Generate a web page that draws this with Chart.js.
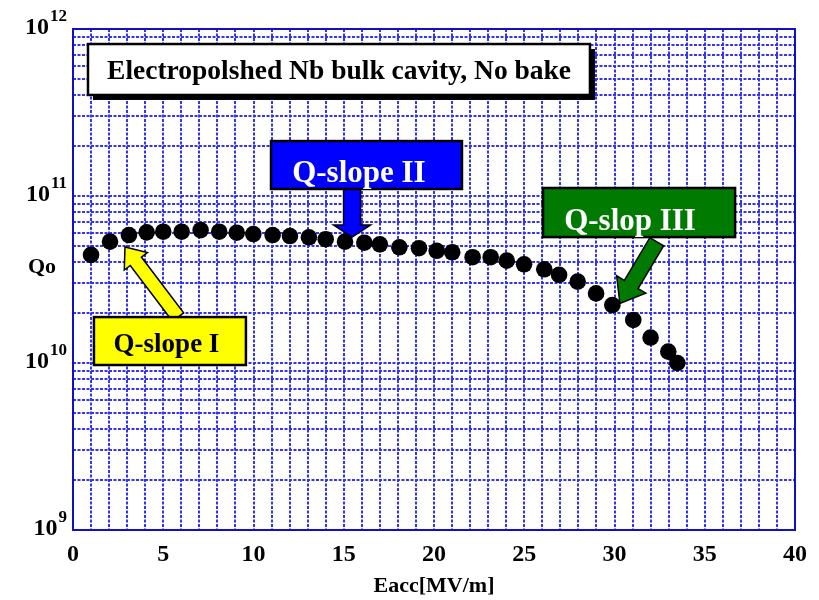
<!DOCTYPE html>
<html lang="en">
<head>
<meta charset="UTF-8">
<title>Electropolished Nb cavity - Q vs Eacc</title>
<script src="https://cdn.jsdelivr.net/npm/chart.js@4"></script>
<style>
    html, body { margin: 0; padding: 0; background: #ffffff; }
    #chart_container { width: 819px; height: 600px; }
</style>
</head>
<body>
<div id="chart_container"><canvas id="q_chart" width="819" height="600"></canvas></div>
<script>
// Accelerating gradient [MV/m] of each measurement
const eacc = [1.0, 2.05, 3.1, 4.08, 5.0, 6.02, 7.07, 8.1, 9.07, 9.99,
              11.06, 12.02, 13.07, 14.0, 15.07, 16.14, 17.0, 18.08, 19.17, 20.15,
              21.01, 22.14, 23.14, 24.03, 24.99, 26.11, 26.93, 27.96, 28.98, 29.88,
              31.04, 32.0, 32.98, 33.48];

// Quality factor Qo of each measurement
const q0 = [4.44e10, 5.33e10, 5.84e10, 6.06e10, 6.11e10, 6.11e10, 6.25e10, 6.11e10, 6.03e10, 5.92e10,
            5.84e10, 5.76e10, 5.66e10, 5.51e10, 5.33e10, 5.25e10, 5.14e10, 4.93e10, 4.87e10, 4.70e10,
            4.60e10, 4.30e10, 4.30e10, 4.10e10, 3.90e10, 3.64e10, 3.37e10, 3.07e10, 2.61e10, 2.22e10,
            1.81e10, 1.42e10, 1.17e10, 1.00e10];

// Axis ticks: decades on the log axis, labelled every 5 MV/m on x
const yDecades = [9, 10, 11, 12];
const xLabelStep = 5;

const SERIF = "'Liberation Serif', 'Times New Roman', serif";
const GRID_COLOR = '#3434f2';

// Annotation boxes, x in MV/m and y as log10(Q)
const boxes = [
    { text: 'Electropolshed Nb bulk cavity, No bake', x0: 0.83, x1: 28.64, e0: 11.605, e1: 11.91,
      fill: '#ffffff', color: '#000000', size: 27.5, textX: 14.74, textE: 11.70, shadow: 5 },
    { text: 'Q-slope II', x0: 10.97, x1: 21.55, e0: 11.042, e1: 11.329,
      fill: '#0000ff', color: '#ffffff', size: 31, textX: 15.84, textE: 11.084, shadow: 0 },
    { text: 'Q-slop III', x0: 26.04, x1: 36.68, e0: 10.754, e1: 11.048,
      fill: '#007a00', color: '#ffffff', size: 31, textX: 30.86, textE: 10.796, shadow: 0 },
    { text: 'Q-slope I', x0: 1.16, x1: 9.58, e0: 9.988, e1: 10.275,
      fill: '#ffff00', color: '#000000', size: 27, textX: 5.18, textE: 10.066, shadow: 0 }
];

const arrows = [
    { x0: 15.46, e0: 11.042, x1: 15.46, e1: 10.754, shaft: 17, head: 37, headLen: 12, fill: '#0000ff' },
    { x0: 32.34, e0: 10.726, x1: 30.30, e1: 10.357, shaft: 16, head: 34, headLen: 22, fill: '#007a00' },
    { x0: 5.82, e0: 10.275, x1: 2.88, e1: 10.695, shaft: 14, head: 29, headLen: 18, fill: '#ffff00' }
];

function drawBlockArrow(ctx, x0, y0, x1, y1, a) {
    const len = Math.hypot(x1 - x0, y1 - y0);
    const ang = Math.atan2(y1 - y0, x1 - x0);
    ctx.save();
    ctx.translate(x0, y0);
    ctx.rotate(ang);
    const s = a.shaft / 2, h = a.head / 2, b = len - a.headLen;
    ctx.beginPath();
    ctx.moveTo(0, -s);
    ctx.lineTo(b, -s);
    ctx.lineTo(b, -h);
    ctx.lineTo(len, 0);
    ctx.lineTo(b, h);
    ctx.lineTo(b, s);
    ctx.lineTo(0, s);
    ctx.closePath();
    ctx.fillStyle = a.fill;
    ctx.fill();
    ctx.lineWidth = 1.5;
    ctx.strokeStyle = '#000000';
    ctx.stroke();
    ctx.restore();
}

const decorPlugin = {
    id: 'decor',
    afterDatasetsDraw(chart) {
        const ctx = chart.ctx;
        const xs = chart.scales.x, ys = chart.scales.y;
        const px = v => xs.getPixelForValue(v);
        const py = e => ys.getPixelForValue(Math.pow(10, e));
        const area = chart.chartArea;

        // plot frame
        ctx.save();
        ctx.strokeStyle = '#1010c8';
        ctx.lineWidth = 2;
        ctx.strokeRect(area.left, area.top, area.right - area.left, area.bottom - area.top);

        // y tick labels with superscript exponent
        ctx.fillStyle = '#000000';
        ctx.textBaseline = 'alphabetic';
        ctx.textAlign = 'left';
        yDecades.forEach(e => {
            const y = py(e);
            ctx.font = 'bold 17px ' + SERIF;
            const sw = ctx.measureText(String(e)).width;
            ctx.font = 'bold 24px ' + SERIF;
            const mw = ctx.measureText('10').width;
            const right = 67;
            const left = right - sw - 1 - mw;
            ctx.fillText('10', left, y + 4.5);
            ctx.font = 'bold 17px ' + SERIF;
            ctx.fillText(String(e), left + mw + 1, y - 8);
        });

        // y axis title, horizontal
        ctx.font = 'bold 22px ' + SERIF;
        ctx.textAlign = 'center';
        ctx.textBaseline = 'middle';
        ctx.fillText('Qo', 42, py(10.57));

        // arrows, then the boxes over their ends
        arrows.forEach(a => drawBlockArrow(ctx, px(a.x0), py(a.e0), px(a.x1), py(a.e1), a));

        boxes.forEach(b => {
            const l = px(b.x0), r = px(b.x1), t = py(b.e1), btm = py(b.e0);
            if (b.shadow) {
                ctx.fillStyle = '#000000';
                ctx.fillRect(l + b.shadow, t + b.shadow, r - l, btm - t);
            }
            ctx.fillStyle = b.fill;
            ctx.fillRect(l, t, r - l, btm - t);
            ctx.lineWidth = 2.5;
            ctx.strokeStyle = '#000000';
            ctx.strokeRect(l, t, r - l, btm - t);
            ctx.fillStyle = b.color;
            ctx.font = 'bold ' + b.size + 'px ' + SERIF;
            ctx.textAlign = 'center';
            ctx.textBaseline = 'alphabetic';
            ctx.fillText(b.text, px(b.textX), py(b.textE));
        });
        ctx.restore();
    }
};

const ctx = document.getElementById('q_chart').getContext('2d');
const qChart = new Chart(ctx, {
    type: 'scatter',
    data: {
        datasets: [{
            label: 'Qo',
            data: eacc.map((x, i) => ({ x: x, y: q0[i] })),
            backgroundColor: '#000000',
            borderWidth: 0,
            pointRadius: 8.3,
            showLine: false
        }]
    },
    options: {
        responsive: false,
        animation: false,
        layout: { padding: { left: 0, right: 24, top: 29, bottom: 0 } },
        plugins: {
            legend: { display: false },
            tooltip: { enabled: false }
        },
        scales: {
            x: {
                type: 'linear',
                min: 0,
                max: 40,
                afterFit: scale => { scale.height = 70; },
                ticks: {
                    stepSize: 1,
                    autoSkip: false,
                    maxRotation: 0,
                    padding: 10,
                    color: '#000000',
                    font: { family: SERIF, size: 24, weight: 'bold' },
                    callback: v => (v % xLabelStep === 0 ? String(v) : '')
                },
                grid: { color: GRID_COLOR, lineWidth: 2, drawTicks: false },
                border: { display: false, dash: [3, 1.5] },
                title: {
                    display: true,
                    text: 'Eacc[MV/m]',
                    color: '#000000',
                    font: { family: SERIF, size: 22, weight: 'bold' },
                    padding: { top: 0, bottom: 0 }
                }
            },
            y: {
                type: 'logarithmic',
                min: 1e9,
                max: 1e12,
                afterFit: scale => { scale.width = 73; },
                afterBuildTicks: scale => {
                    const ticks = [];
                    yDecades.forEach(e => {
                        for (let m = 1; m <= 9; m++) {
                            const v = m * Math.pow(10, e);
                            if (v <= 1e12) ticks.push({ value: v });
                        }
                    });
                    scale.ticks = ticks;
                },
                ticks: { display: false },
                grid: { color: GRID_COLOR, lineWidth: 2, drawTicks: false },
                border: { display: false, dash: [3, 1.5] }
            }
        }
    },
    plugins: [decorPlugin]
});
</script>
</body>
</html>
